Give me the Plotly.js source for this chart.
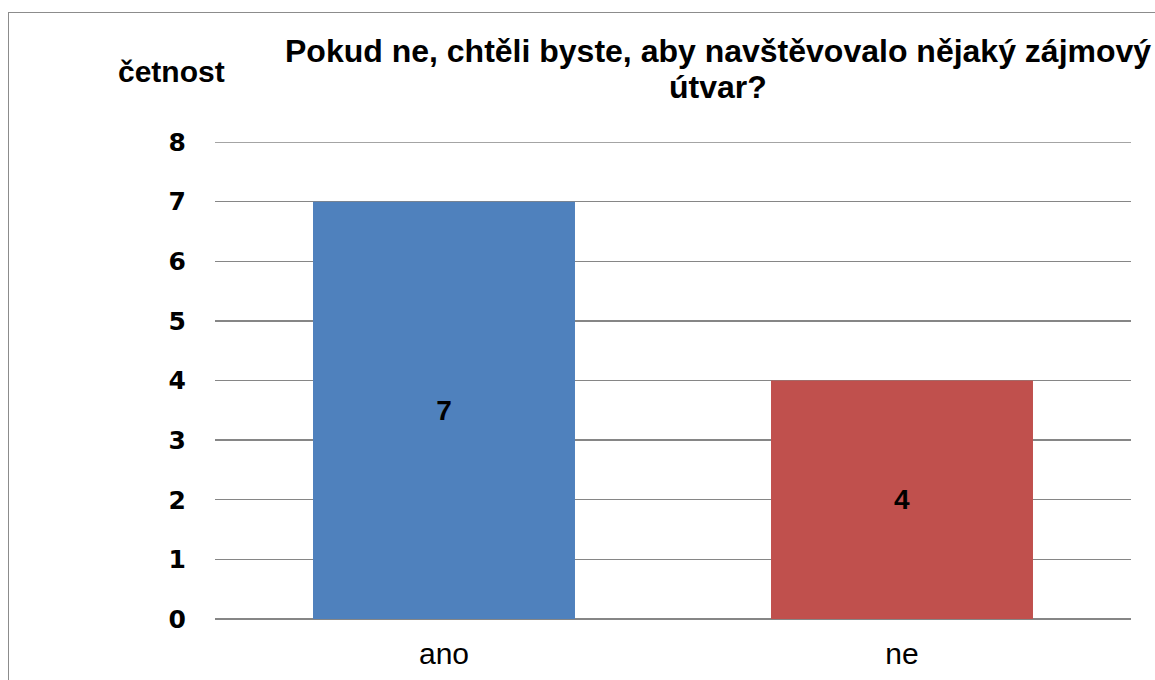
<!DOCTYPE html>
<html>
<head>
<meta charset="utf-8">
<script src="https://cdn.plot.ly/plotly-3.0.1.min.js"></script>
<style>
  html, body { margin: 0; padding: 0; background: #ffffff; overflow: hidden; }
  #wrap { position: relative; width: 1155px; height: 680px; }
  #chart { width: 1155px; height: 680px; }
  #frame { position: absolute; left: 8px; top: 12px; width: 1300px; height: 800px;
           border: 1.5px solid #8c8c8c; pointer-events: none; box-sizing: border-box; }
</style>
</head>
<body>
<div id="wrap">
  <div id="chart"></div>
  <div id="frame"></div>
</div>
<script>
const categories = ['ano', 'ne'];
const counts = [7, 4];
const barColors = ['#4F81BD', '#C0504D'];
const yTicks = [0, 1, 2, 3, 4, 5, 6, 7, 8];
const yMax = 8;
const titleLines = ['Pokud ne, chtěli byste, aby navštěvovalo nějaký zájmový', 'útvar?'];
const yLabel = 'četnost';

const trace = {
  type: 'bar',
  x: categories,
  y: counts,
  marker: { color: barColors },
  text: counts.map(String),
  textposition: 'inside',
  insidetextanchor: 'middle',
  textangle: 0,
  textfont: { family: 'Liberation Sans, Arial, sans-serif', size: 28, color: '#000000', weight: 'bold' },
  hoverinfo: 'x+y'
};

const titleFont = { family: 'Liberation Sans, Arial, sans-serif', size: 32, color: '#000000', weight: 'bold' };

const layout = {
  width: 1155,
  height: 680,
  margin: { l: 215, r: 24, t: 142, b: 61 },
  paper_bgcolor: '#ffffff',
  plot_bgcolor: '#ffffff',
  showlegend: false,
  bargap: 0.428,
  xaxis: {
    type: 'category',
    showgrid: false,
    showline: false,
    zeroline: false,
    ticks: '',
    tickfont: { family: 'Liberation Sans, Arial, sans-serif', size: 30, color: '#000000' },
    ticklabelstandoff: 14
  },
  yaxis: {
    range: [0, yMax],
    tickvals: yTicks,
    ticktext: yTicks.map(String),
    showgrid: true,
    gridcolor: '#868686',
    gridwidth: 1.3,
    zeroline: true,
    zerolinecolor: '#868686',
    zerolinewidth: 1.3,
    showline: false,
    ticks: '',
    ticklabelstandoff: 28,
    tickfont: { family: 'Arial Black, DejaVu Sans, sans-serif', size: 25, color: '#000000', weight: 'bold' }
  },
  shapes: [{
    type: 'line',
    xref: 'paper', yref: 'y',
    x0: 0, x1: 1, y0: yMax, y1: yMax,
    line: { color: '#868686', width: 1.3 },
    layer: 'below'
  }],
  annotations: [
    {
      text: titleLines[0],
      xref: 'paper', yref: 'paper',
      x: 0.549, y: 1.1908,
      xanchor: 'center', yanchor: 'middle',
      showarrow: false,
      font: titleFont
    },
    {
      text: titleLines[1],
      xref: 'paper', yref: 'paper',
      x: 0.549, y: 1.1153,
      xanchor: 'center', yanchor: 'middle',
      showarrow: false,
      font: titleFont
    },
    {
      text: yLabel,
      xref: 'paper', yref: 'paper',
      x: -0.047, y: 1.148,
      xanchor: 'center', yanchor: 'middle',
      showarrow: false,
      font: { family: 'Liberation Sans, Arial, sans-serif', size: 30, color: '#000000', weight: 'bold' }
    }
  ]
};

Plotly.newPlot('chart', [trace], layout, { displayModeBar: false, staticPlot: true });
</script>
</body>
</html>
